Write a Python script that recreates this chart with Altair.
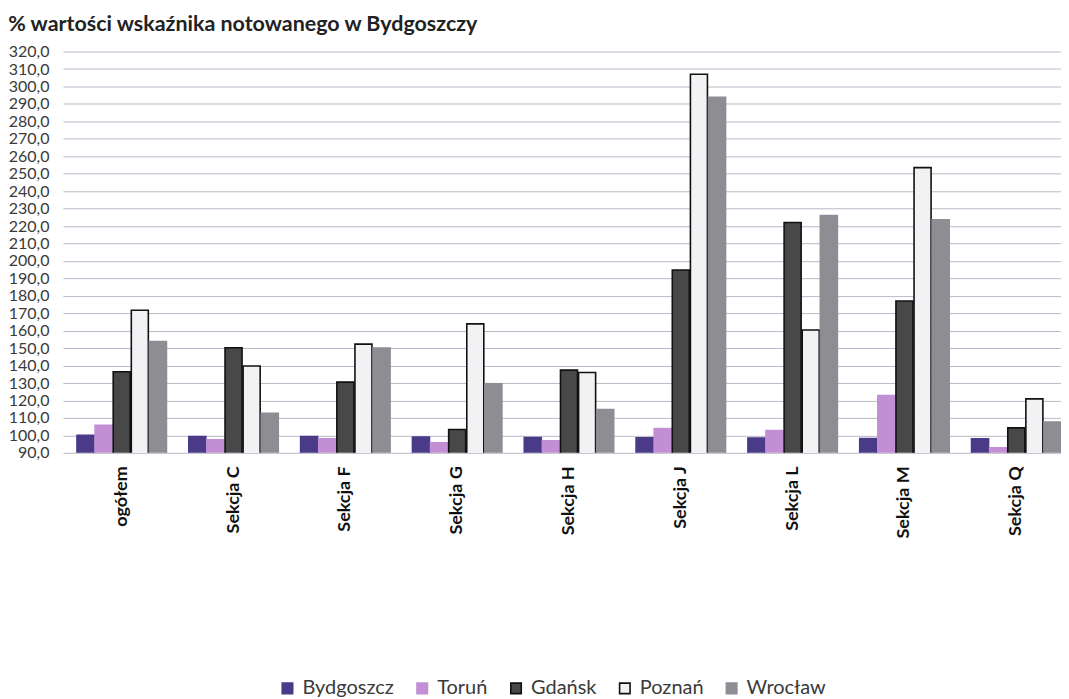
import altair as alt
import pandas as pd

categories = ["ogółem", "Sekcja C", "Sekcja F", "Sekcja G", "Sekcja H",
              "Sekcja J", "Sekcja L", "Sekcja M", "Sekcja Q"]
cities = ["Bydgoszcz", "Toruń", "Gdańsk", "Poznań", "Wrocław"]

bydgoszcz = [100.0, 99.3, 99.3, 99.0, 98.8, 98.6, 98.4, 98.2, 98.0]
torun     = [105.8, 97.4, 98.0, 95.7, 96.9, 103.9, 102.8, 122.8, 92.9]
gdansk    = [136.5, 150.2, 130.5, 103.4, 137.4, 194.8, 222.0, 177.0, 104.3]
poznan    = [171.7, 139.8, 152.3, 163.9, 136.0, 307.0, 160.4, 253.5, 120.9]
wroclaw   = [153.8, 112.7, 150.1, 129.5, 114.8, 293.8, 226.0, 223.5, 107.6]

series = [bydgoszcz, torun, gdansk, poznan, wroclaw]
rows = []
for city, vals in zip(cities, series):
    for cat, v in zip(categories, vals):
        rows.append({"kategoria": cat, "miasto": city, "wartosc": v})
df = pd.DataFrame(rows)

fills = ["#4b3a88", "#c28fd5", "#484848", "#f2f2f4", "#8e8d94"]
strokes = ["#4b3a88", "#c28fd5", "#111111", "#111111", "#8e8d94"]

FONT = "Lato"

legend_kw = dict(orient="none", legendX=215, legendY=628, direction="horizontal")

chart = alt.Chart(df).mark_bar(strokeWidth=1.6, clip=True).encode(
    x=alt.X("kategoria:N", sort=categories, title=None,
            scale=alt.Scale(paddingInner=0.2, paddingOuter=0.063, align=1),
            axis=alt.Axis(labelAngle=270, labelAlign="right", labelBaseline="middle",
                          labelFontWeight="bold", labelFontSize=18, labelColor="#111111",
                          labelPadding=13, ticks=False, domain=False, labelFont=FONT)),
    xOffset=alt.XOffset("miasto:N", sort=cities,
                        scale=alt.Scale(paddingInner=0.06)),
    y=alt.Y("wartosc:Q", title=None,
            scale=alt.Scale(domain=[90, 320], nice=False, zero=False),
            axis=alt.Axis(values=list(range(90, 321, 10)),
                          labelExpr="replace(format(datum.value, '.1f'), '.', ',')",
                          labelFontSize=16, labelColor="#3a3a3a", labelFont=FONT,
                          ticks=False, domain=False, labelPadding=14,
                          gridColor="#b9b9c9", gridWidth=1)),
    color=alt.Color("miasto:N", sort=cities, title=None,
                    scale=alt.Scale(domain=cities, range=fills),
                    legend=alt.Legend(**legend_kw)),
    stroke=alt.Stroke("miasto:N", sort=cities, title=None,
                      scale=alt.Scale(domain=cities, range=strokes),
                      legend=alt.Legend(**legend_kw)),
).properties(
    width=1000,
    height=402,
    padding={"left": 0, "right": 0, "top": 5, "bottom": 0},
    title=alt.TitleParams("% wartości wskaźnika notowanego  w Bydgoszczy",
                          anchor="start", frame="bounds", fontSize=21.5,
                          fontWeight="bold", font=FONT, color="#222222", offset=8),
).configure_legend(
    symbolType="square", symbolSize=110,
    labelFontSize=20, labelFont=FONT, labelColor="#3a3a3a", columnPadding=18,
    symbolStrokeWidth=1.6, labelOffset=5,
).configure_view(stroke=None)

chart.save("out.html", embed_options={"renderer": "svg", "actions": False})
